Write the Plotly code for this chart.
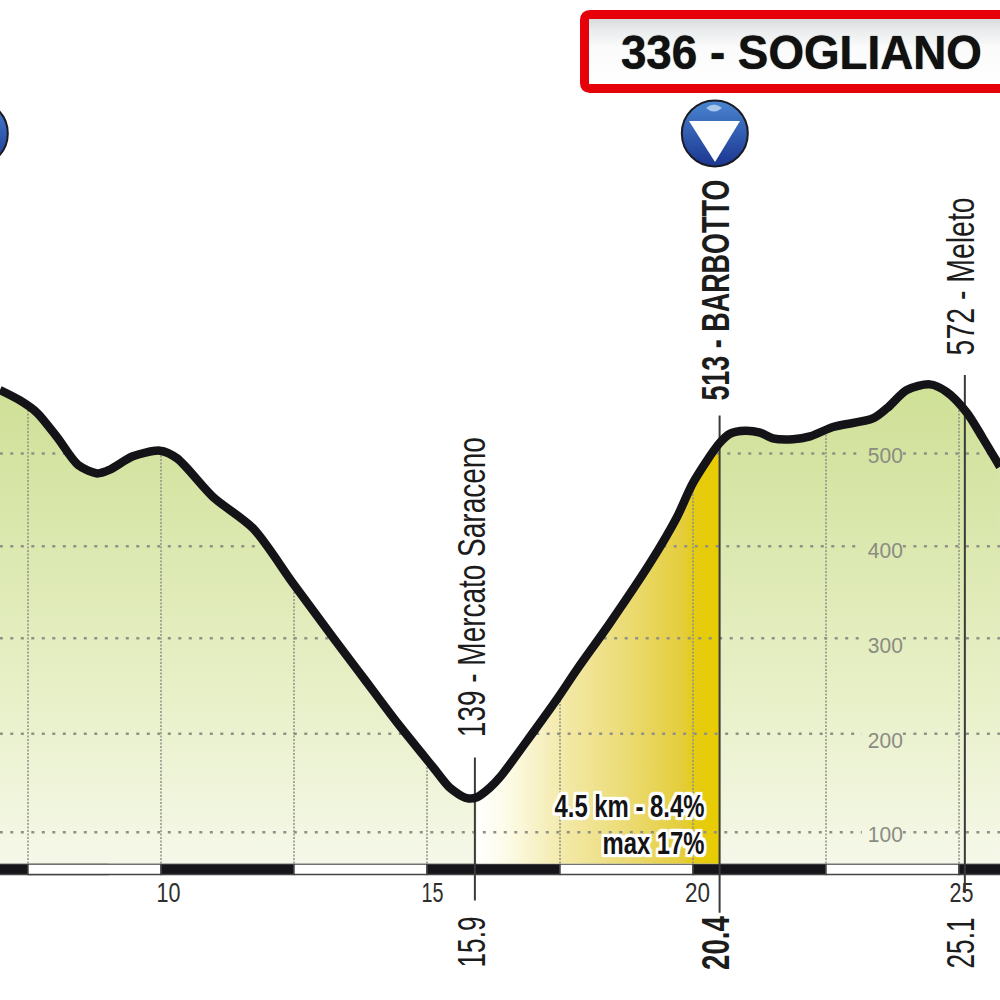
import json

import numpy as np
import plotly.graph_objects as go

# profilo altimetrico (km, metri)
profile_km = [6.97, 7.35, 7.67, 8.05, 8.44, 8.80, 9.04, 9.47, 9.98, 10.30, 10.98, 11.73, 12.48, 13.23,
              13.74, 13.98, 14.45, 15.11, 15.43, 15.75, 15.94, 16.18, 16.37, 17.00, 17.46, 17.82, 18.44, 19.19,
              19.70, 20.00, 20.50, 20.70, 20.98, 21.26, 21.50, 21.88, 22.20, 22.63, 23.38, 23.65, 24.02,
              24.45, 24.77, 25.15, 25.45, 25.77]
profile_m = [567, 556, 543, 517, 488, 479, 483, 497, 503, 495, 454, 421, 363, 306,
             268, 250, 215, 169, 147, 136, 137, 147, 158, 206, 242, 272, 321, 384,
             433, 469, 511, 521, 524, 522, 516, 515, 518, 528, 537, 548, 567,
             573, 565, 543, 516, 486]

climb_start_km = 15.94
climb_end_km = 20.50

grid_km = [7.5, 10, 12.5, 15, 17.5, 20, 22.5, 25]
grid_m = [100, 204, 305, 402, 500]
km_labels = [10, 15, 20, 25]
m_labels = ["100", "200", "300", "400", "500"]
label_gap_km = [23.17, 23.94]

# barra chilometrica
bar_start_km = [6.5, 7.5, 10, 12.5, 15, 17.5, 20, 22.5, 25]
bar_colors = ["#15151a", "#ffffff", "#15151a", "#ffffff", "#15151a", "#ffffff", "#15151a", "#ffffff", "#15151a"]
base_m = 67

# punti notevoli
mark_km = [15.9, 20.5, 25.11]
mark_top_m = [179, 540, 583]
mark_bottom_m = [28, 15, 36]
gpm_km = [6.5, 20.41]
gpm_m = [838, 838]

# conversione pixel -> assi
X0, X_SCALE = 161, 53.2
Y0, Y_SCALE = 832.3, 0.947


def px_x(x):
    return 10 + (x - X0) / X_SCALE


def px_y(y):
    return 100 + (Y0 - y) / Y_SCALE


km = np.array(profile_km)
m = np.array(profile_m)


def above_segments(level):
    # tratti orizzontali sotto la curva, cioe' dove il profilo sta sopra il livello
    fine = np.linspace(km[0], km[-1], 2000)
    inside = np.interp(fine, km, m) > level + 6
    inside &= ~((fine > label_gap_km[0]) & (fine < label_gap_km[1]))
    xs, ys = [], []
    start = None
    for xv, ok in zip(fine, inside):
        if ok and start is None:
            start = xv
        if not ok and start is not None:
            xs += [start, xv, None]
            ys += [level, level, None]
            start = None
    if start is not None:
        xs += [start, fine[-1], None]
        ys += [level, level, None]
    return xs, ys


fig = go.Figure()

# area verde
fig.add_trace(go.Scatter(
    x=[km[0]] + profile_km + [km[-1]],
    y=[base_m] + profile_m + [base_m],
    mode='none',
    fill='toself',
    fillgradient=dict(type='vertical', colorscale=[[0, '#f5f8e9'], [0.35, '#e8f0c8'], [0.75, '#d8e6a9'], [1, '#cfe096']]),
    hoverinfo='skip'
))

# salita in giallo
climb = (km >= climb_start_km) & (km <= climb_end_km)
fig.add_trace(go.Scatter(
    x=[climb_start_km] + list(km[climb]) + [climb_end_km],
    y=[base_m] + list(m[climb]) + [base_m],
    mode='none',
    fill='toself',
    fillgradient=dict(type='horizontal', colorscale=[[0, '#ffffff'], [0.12, '#fdfbe8'], [0.36, '#f3e9a8'],
                                                     [0.6, '#ecdc78'], [0.85, '#e4cd3a'], [0.9, '#e5cb12'], [1, '#e8cc00']]),
    hoverinfo='skip'
))

# griglia orizzontale a puntini
for level in grid_m:
    xs, ys = above_segments(level)
    fig.add_trace(go.Scatter(x=xs, y=ys, mode='lines', hoverinfo='skip',
                             line=dict(color='#8f9186', width=2.5, dash='3px,7.5px')))

# griglia verticale
for g in grid_km:
    fig.add_trace(go.Scatter(x=[g, g], y=[base_m, np.interp(g, km, m) - 4], mode='lines', hoverinfo='skip',
                             line=dict(color='#8f9186', width=1.5, dash='2px,1.5px')))

# barra chilometrica
fig.add_trace(go.Bar(
    x=[s + 1.25 for s in bar_start_km],
    y=[11] * len(bar_start_km),
    base=[55.5] * len(bar_start_km),
    width=[2.5] * len(bar_start_km),
    marker=dict(color=bar_colors, line=dict(color='#444444', width=1.5)),
    hoverinfo='skip'
))

# linee dei punti notevoli
for k, top, bottom in zip(mark_km, mark_top_m, mark_bottom_m):
    fig.add_trace(go.Scatter(x=[k, k], y=[bottom, top], mode='lines', hoverinfo='skip',
                             line=dict(color='#3a3a3a', width=2)))

# profilo
fig.add_trace(go.Scatter(
    x=profile_km,
    y=profile_m,
    mode='lines',
    line=dict(color='#141418', width=8.5, shape='spline', smoothing=0.8),
    hoverinfo='skip'
))

# sfondo del cartello
fig.add_trace(go.Scatter(
    x=[px_x(585), px_x(1010), px_x(1010), px_x(585), px_x(585)],
    y=[px_y(15), px_y(15), px_y(88), px_y(88), px_y(15)],
    mode='none',
    fill='toself',
    fillgradient=dict(type='vertical', colorscale=[[0, '#ffffff'], [0.55, '#fbfbfb'], [0.8, '#e9ebec'], [1, '#d2d5d7']]),
    hoverinfo='skip'
))

# GPM
fig.add_trace(go.Scatter(
    x=gpm_km, y=gpm_m, mode='markers', hoverinfo='skip',
    marker=dict(size=66, color='#4a86d2', gradient=dict(type='vertical', color='#1b3590'),
                line=dict(color='#1a1a22', width=2))
))

fig.update_layout(
    width=1000,
    height=1000,
    margin=dict(l=0, r=0, t=0, b=0),
    paper_bgcolor='white',
    plot_bgcolor='white',
    showlegend=False,
    xaxis=dict(range=[px_x(0), px_x(1000)], visible=False, fixedrange=True),
    yaxis=dict(range=[px_y(1000), px_y(0)], visible=False, fixedrange=True),
)


def paper(x, y):
    return f"{x / 1000:.4f} {1 - y / 1000:.4f}"


# triangolo bianco e riflesso del simbolo GPM, cornice rossa
fig.add_shape(type='path', xref='paper', yref='paper', layer='above', line_width=0, fillcolor='white',
              path=f"M {paper(689, 121)} L {paper(740, 121)} L {paper(715, 162)} Z")
fig.add_shape(type='path', xref='paper', yref='paper', layer='above', line_width=0, fillcolor='#a9c8ec',
              path=f"M {paper(706, 108)} Q {paper(714, 101)} {paper(722, 108)} Q {paper(714, 115)} {paper(706, 108)} Z")
fig.add_shape(type='path', xref='paper', yref='paper', layer='above', line=dict(color='#e6000a', width=9),
              path=f"M {paper(1012, 14.5)} L {paper(590, 14.5)} Q {paper(584.5, 14.5)} {paper(584.5, 20)} "
                   f"L {paper(584.5, 83)} Q {paper(584.5, 88.5)} {paper(590, 88.5)} L {paper(1012, 88.5)}")

FONT = "Liberation Sans"
text_lengths = {}  # lunghezza in px per stringere il testo (non c'e' un font narrow)


def label(text, x, y, size, length, color='#1c1c1c', angle=-90, bold=False, shadow=None):
    text_lengths[text] = length
    font = dict(family=FONT, size=size, color=color, weight='bold' if bold else 'normal')
    if shadow:
        font['shadow'] = shadow
    fig.add_annotation(x=px_x(x), y=px_y(y), text=text, showarrow=False, textangle=angle, font=font)


label("336 - SOGLIANO", 801.5, 52, 48, 361, color='#111111', angle=0, bold=True, shadow="0 0 1px #111")
label("139 - Mercato Saraceno", 472, 587, 38, 300)
label("513 - BARBOTTO", 716, 290, 38, 221, bold=True)
label("572 - Meleto", 961, 277, 38, 158)
label("15.9", 472, 942, 38, 51)
label("20.4", 716, 943, 38, 54, bold=True)
label("25.1", 961, 943, 38, 51)

# etichette assi
for k, x, w in zip(km_labels, [168, 432, 697, 961], [24, 22, 25, 24]):
    label(str(k), x, 892, 28, w, color='#2e2e2e', angle=0)
for text, y in zip(m_labels, [834, 740, 645, 550, 455]):
    label(text, 885, y, 22, 35, color='#8a8b82', angle=0)

halo = ",".join(f"{a}px {b}px 1px #fff" for a in (-3, -1.5, 0, 1.5, 3) for b in (-3, -1.5, 0, 1.5, 3))
label("4.5 km - 8.4%", 629, 806, 32, 150, color='#141414', angle=0, bold=True, shadow=halo)
label("max 17%", 653, 843, 32, 102, color='#141414', angle=0, bold=True, shadow=halo)

squeeze = (
    "document.body.style.margin='0';document.documentElement.style.overflow='hidden';"
    "var L=" + json.dumps(text_lengths) + ";"
    "document.querySelectorAll('.annotation-text').forEach(function(t){var n=L[t.textContent];"
    "if(n){t.setAttribute('textLength',n);t.setAttribute('lengthAdjust','spacingAndGlyphs');}});"
)
fig.write_html("out.html", config=dict(displayModeBar=False), post_script=squeeze)
